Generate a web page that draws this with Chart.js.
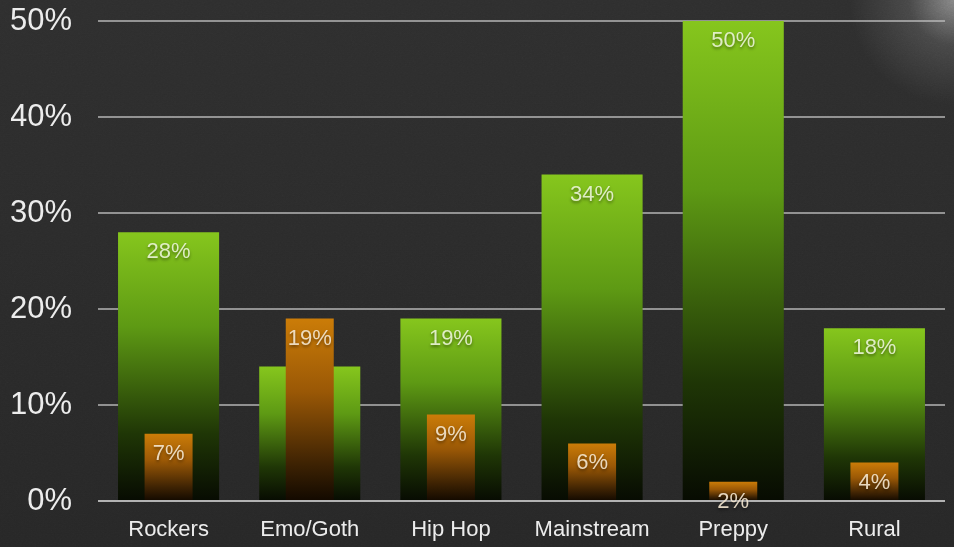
<!DOCTYPE html>
<html>
<head>
<meta charset="utf-8">
<title>Groups</title>
<script src="https://cdn.jsdelivr.net/npm/chart.js@4.4.1/dist/chart.umd.min.js"></script>
<style>
  html, body { margin: 0; padding: 0; background: #2a2a2a; }
  #wrap {
    width: 954px;
    height: 547px;
    position: relative;
    background:
      radial-gradient(circle at 100% 0%, rgba(255,255,255,0.42) 0px, rgba(255,255,255,0.12) 45px, rgba(255,255,255,0) 105px),
      linear-gradient(#2e2e2e, #272727);
  }
  /* leathery grain over the backdrop */
  #grain {
    position: absolute;
    inset: 0;
    opacity: 0.16;
    background-image: url("data:image/svg+xml;utf8,<svg xmlns='http://www.w3.org/2000/svg' width='954' height='547'><filter id='n'><feTurbulence type='fractalNoise' baseFrequency='0.55 0.9' numOctaves='3' seed='4'/><feColorMatrix type='saturate' values='0'/></filter><rect width='100%' height='100%' filter='url(%23n)'/></svg>");
    mix-blend-mode: overlay;
  }
  canvas { display: block; position: relative; }
</style>
</head>
<body>
<div id="wrap"><div id="grain"></div><canvas id="chart" width="954" height="547"></canvas></div>
<script>
const categories = ["Rockers", "Emo/Goth", "Hip Hop", "Mainstream", "Preppy", "Rural"];
const greenValues = [28, 14, 19, 34, 50, 18];
const orangeValues = [7, 19, 9, 6, 2, 4];
// Emo/Goth green bar carries no label
const greenLabels = ["28%", null, "19%", "34%", "50%", "18%"];
const orangeLabels = ["7%", "19%", "9%", "6%", "2%", "4%"];
const yTicks = [0, 10, 20, 30, 40, 50];

const FONT = "'Liberation Sans', Arial, Helvetica, sans-serif";

// vertical gradient running from the top of each bar down to the baseline
function barGradient(stops) {
  return (context) => {
    const { ctx, chartArea, scales } = context.chart;
    if (!chartArea || context.type !== "data") return stops[0][1];
    const top = scales.y.getPixelForValue(context.raw);
    const bottom = scales.y.getPixelForValue(0);
    const g = ctx.createLinearGradient(0, top, 0, bottom);
    stops.forEach(([pos, color]) => g.addColorStop(pos, color));
    return g;
  };
}

const greenStops = [[0, "#86c61d"], [0.35, "#5e9a14"], [0.75, "#1f3606"], [1, "#070b02"]];
const orangeStops = [[0, "#cb7c08"], [0.4, "#9a5806"], [0.8, "#3d2203"], [1, "#120900"]];

const valueLabels = {
  id: "valueLabels",
  afterDatasetsDraw(chart) {
    const { ctx, scales, chartArea } = chart;
    // baseline sits over the bars
    const y0 = scales.y.getPixelForValue(0);
    ctx.save();
    ctx.strokeStyle = "rgba(190,190,190,0.75)";
    ctx.lineWidth = 2;
    ctx.beginPath();
    ctx.moveTo(chartArea.left, y0);
    ctx.lineTo(chartArea.right, y0);
    ctx.stroke();

    ctx.font = "22px " + FONT;
    ctx.textAlign = "center";
    ctx.textBaseline = "middle";
    ctx.shadowColor = "rgba(0,0,0,0.45)";
    ctx.shadowOffsetY = 2;
    ctx.shadowBlur = 3;
    const sets = [[0, greenLabels, "rgba(235,245,215,0.9)"], [1, orangeLabels, "rgba(245,232,210,0.9)"]];
    sets.forEach(([idx, labels, color]) => {
      const meta = chart.getDatasetMeta(idx);
      meta.data.forEach((bar, i) => {
        if (!labels[i]) return;
        ctx.fillStyle = color;
        ctx.fillText(labels[i], bar.x, bar.y + 20);
      });
    });
    ctx.restore();
  }
};

new Chart(document.getElementById("chart"), {
  type: "bar",
  data: {
    labels: categories,
    datasets: [
      {
        label: "Green",
        data: greenValues,
        backgroundColor: barGradient(greenStops),
        grouped: false,
        categoryPercentage: 1,
        barPercentage: 0.716,
        order: 1
      },
      {
        label: "Orange",
        data: orangeValues,
        backgroundColor: barGradient(orangeStops),
        grouped: false,
        categoryPercentage: 1,
        barPercentage: 0.34,
        order: 0
      }
    ]
  },
  options: {
    responsive: false,
    animation: false,
    layout: { padding: { left: 11, right: 9, top: 0, bottom: 0 } },
    plugins: {
      legend: { display: false },
      tooltip: { enabled: false }
    },
    scales: {
      x: {
        grid: { display: false },
        border: { display: false },
        afterFit: (axis) => {
          axis.height = 46;
          axis.paddingLeft = 0;
          axis.paddingRight = 0;
        },
        ticks: {
          color: "#ececec",
          font: { family: FONT, size: 22 },
          padding: 8,
          maxRotation: 0,
          autoSkip: false
        }
      },
      y: {
        min: 0,
        max: 50,
        afterBuildTicks: (axis) => { axis.ticks = yTicks.map((v) => ({ value: v })); },
        afterFit: (axis) => {
          axis.width = 87;
          // keep the tick padding from eating vertical room
          axis.paddingTop = 21;
          axis.paddingBottom = 19;
        },
        grid: { color: "rgba(190,190,190,0.7)", lineWidth: 2, drawTicks: false },
        border: { display: false },
        ticks: {
          color: "#ececec",
          font: { family: FONT, size: 31 },
          padding: 26,
          callback: (v) => v + "%"
        }
      }
    }
  },
  plugins: [valueLabels]
});
</script>
</body>
</html>
